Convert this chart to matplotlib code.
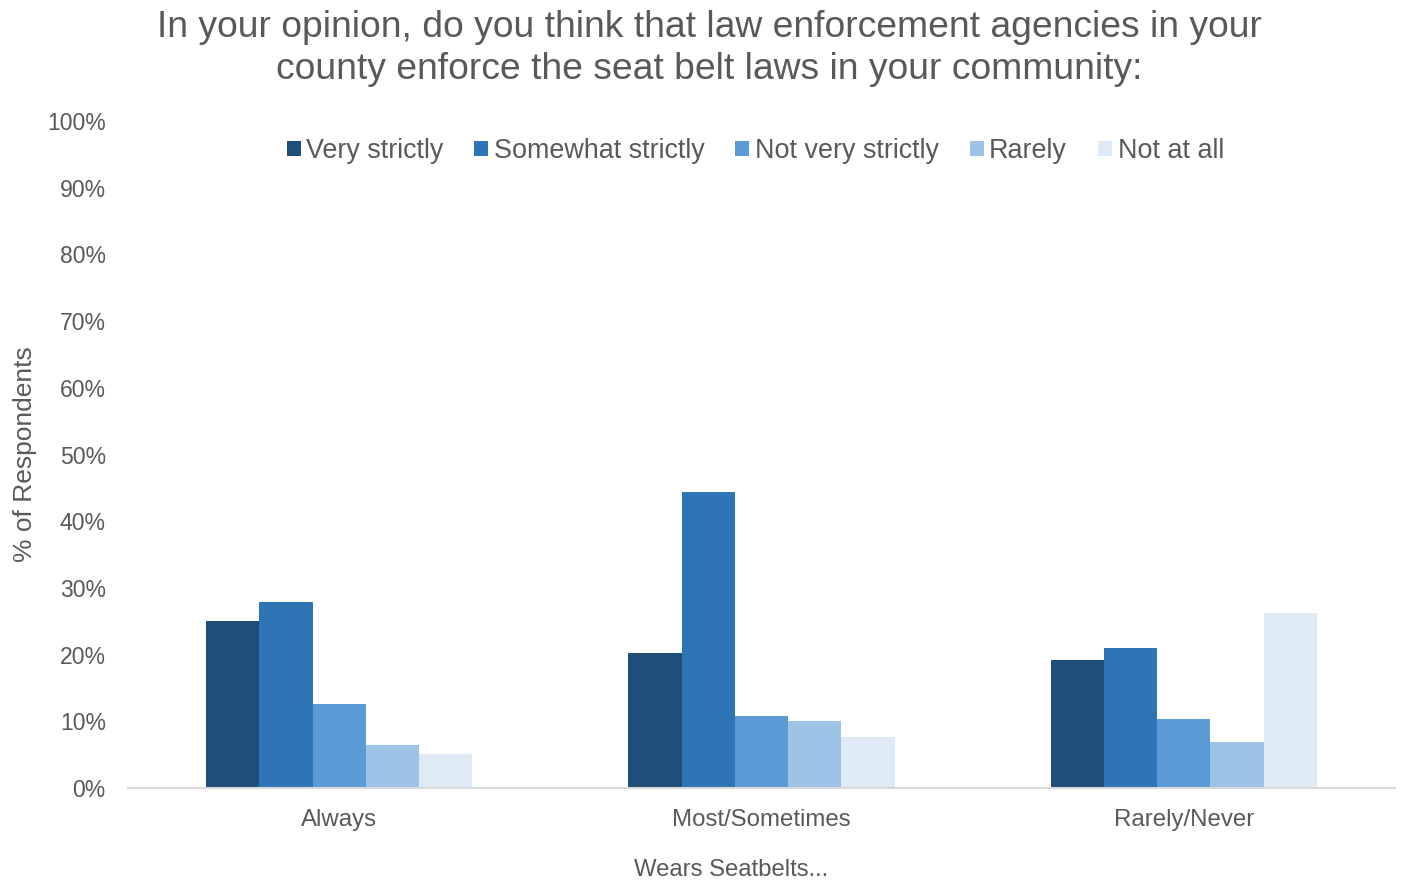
import matplotlib

matplotlib.use("Agg")

import matplotlib.pyplot as plt
import numpy as np
from matplotlib.ticker import FuncFormatter

plt.rcParams["font.family"] = ["Liberation Sans", "DejaVu Sans"]

TEXT = "#595959"

categories = ["Always", "Most/Sometimes", "Rarely/Never"]
series_names = ["Very strictly", "Somewhat strictly", "Not very strictly", "Rarely", "Not at all"]
very_strictly = [25.1, 20.2, 19.2]
somewhat_strictly = [27.9, 44.4, 21.0]
not_very_strictly = [12.6, 10.8, 10.4]
rarely = [6.4, 10.1, 6.9]
not_at_all = [5.1, 7.7, 26.2]
colors = ["#1F4E79", "#2E75B6", "#5B9BD5", "#9DC3E6", "#DEEBF7"]

series = [very_strictly, somewhat_strictly, not_very_strictly, rarely, not_at_all]

fig = plt.figure(figsize=(14.02, 8.8), dpi=100)
ax = fig.add_axes([0.0913, 0.1045, 0.9037, 0.758])

x = np.arange(len(categories))
width = 0.126
for i, (name, vals, col) in enumerate(zip(series_names, series, colors)):
    offset = (i - 2) * width
    ax.bar(x + offset, vals, width, color=col, label=name, edgecolor="none")

ax.set_xlim(-0.5, len(categories) - 0.5)
ax.set_ylim(0, 100)
ax.set_yticks(np.arange(0, 101, 10))
ax.yaxis.set_major_formatter(FuncFormatter(lambda v, _: f"{v:.0f}%"))
ax.set_xticks(x)
ax.set_xticklabels(categories)
ax.tick_params(axis="both", length=0, labelsize=16.6, colors=TEXT)
ax.tick_params(axis="x", labelsize=17.3, pad=15)
ax.tick_params(axis="y", pad=16)

for side in ("top", "right", "left"):
    ax.spines[side].set_visible(False)
ax.spines["bottom"].set_color("#D9D9D9")
ax.spines["bottom"].set_linewidth(1.5)

ax.set_ylabel("% of Respondents", fontsize=19, color=TEXT, labelpad=7)
ax.set_xlabel("Wears Seatbelts...", fontsize=17.2, color=TEXT, labelpad=20)
ax.xaxis.label.set_x(0.476)

fig.text(0.506, 0.945, "In your opinion, do you think that law enforcement agencies in your\n"
         "county enforce the seat belt laws in your community:",
         ha="center", va="center", fontsize=26.8, color=TEXT, linespacing=1.28)

ax.legend(loc="center", bbox_to_anchor=(0.495, 0.955), ncol=5, frameon=False,
          fontsize=19.4, labelcolor=TEXT, handlelength=0.52, handleheight=0.52,
          handletextpad=0.2, columnspacing=1.15)

fig.savefig("out.png", dpi=100)
